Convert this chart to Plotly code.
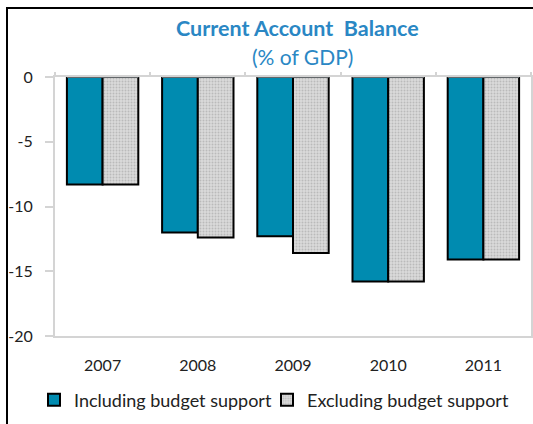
import plotly.graph_objects as go

# Current account balance, % of GDP
years = ["2007", "2008", "2009", "2010", "2011"]
including_support = [-8.3, -12.0, -12.3, -15.8, -14.1]
excluding_support = [-8.3, -12.4, -13.6, -15.8, -14.1]

y_ticks = [0, -5, -10, -15, -20]
y_tick_text = ["0", "-5", "-10", "-15", "-20"]

W, H = 533, 424
L, R, T, B = 55, 2, 77, 88
PW, PH = W - L - R, H - T - B


def px_x(px):
    return (px - L) / PW


def px_y(py):
    return (H - B - py) / PH


FONT = "Lato, 'Open Sans', sans-serif"
TEXT = "#222222"
GRID = "#d4d4d4"

fig = go.Figure()
fig.add_trace(go.Bar(
    x=years, y=including_support, name="Including budget support",
    legend="legend",
    marker=dict(color="#008bb0", line=dict(color="black", width=2)),
))
fig.add_trace(go.Bar(
    x=years, y=excluding_support, name="Excluding budget support",
    legend="legend2",
    marker=dict(
        color="#d0d0d0",
        line=dict(color="black", width=2),
        pattern=dict(shape=".", fgcolor="#9a9a9a", bgcolor="#dadada",
                     size=3, solidity=0.35),
    ),
))
# invisible trace carrying the top category axis (boundary tick marks)
fig.add_trace(go.Bar(x=years, y=[0] * len(years), xaxis="x2",
                     showlegend=False, hoverinfo="skip",
                     marker=dict(color="rgba(0,0,0,0)")))

legend_style = dict(orientation="h", xanchor="left", yanchor="middle",
                    y=px_y(400), font=dict(size=18, color=TEXT),
                    itemwidth=30, itemclick=False, bgcolor="rgba(0,0,0,0)")

fig.update_layout(
    width=W, height=H,
    margin=dict(l=L, r=R, t=T, b=B, autoexpand=False),
    paper_bgcolor="white", plot_bgcolor="white",
    barmode="group", bargap=0.25, bargroupgap=0,
    font=dict(family=FONT, color=TEXT, size=16),
    showlegend=True,
    legend=dict(x=px_x(34), **legend_style),
    legend2=dict(x=px_x(267), **legend_style),
    xaxis=dict(
        type="category", range=[-0.5, 4.5],
        showline=True, linecolor=GRID, linewidth=2, mirror=True,
        ticks="", ticklabelstandoff=14,
        tickfont=dict(size=16, color=TEXT),
        showgrid=False, zeroline=False,
    ),
    xaxis2=dict(
        type="category", range=[-0.5, 4.5], overlaying="x", side="top",
        tickson="boundaries", ticks="outside", ticklen=4,
        tickcolor=GRID, tickwidth=2, showticklabels=False,
        showline=False, showgrid=False, zeroline=False,
    ),
    yaxis=dict(
        range=[-20, 0], tickvals=y_ticks, ticktext=y_tick_text,
        showline=True, linecolor=GRID, linewidth=2, mirror=True,
        ticks="outside", ticklen=8, tickcolor=GRID, tickwidth=2,
        ticklabelstandoff=9,
        tickfont=dict(size=16, color=TEXT),
        showgrid=False, zeroline=False,
    ),
    shapes=[
        # outer chart frame (left and top edges)
        dict(type="path", xref="paper", yref="paper",
             path=f"M {px_x(7)},{px_y(H + 5)} L {px_x(7)},{px_y(8)} L {px_x(W + 5)},{px_y(8)}",
             line=dict(color="black", width=2)),
    ],
    annotations=[
        dict(text="<b>Current Account  Balance</b>", xref="paper", yref="paper",
             x=px_x(297), y=px_y(28), xanchor="center", yanchor="middle",
             showarrow=False, font=dict(size=21.5, color="#2a87c4", family=FONT)),
        dict(text="(% of GDP)", xref="paper", yref="paper",
             x=px_x(302), y=px_y(57), xanchor="center", yanchor="middle",
             showarrow=False, font=dict(size=21, color="#2a87c4", family=FONT)),
    ],
)

fig.write_html("out.html")
